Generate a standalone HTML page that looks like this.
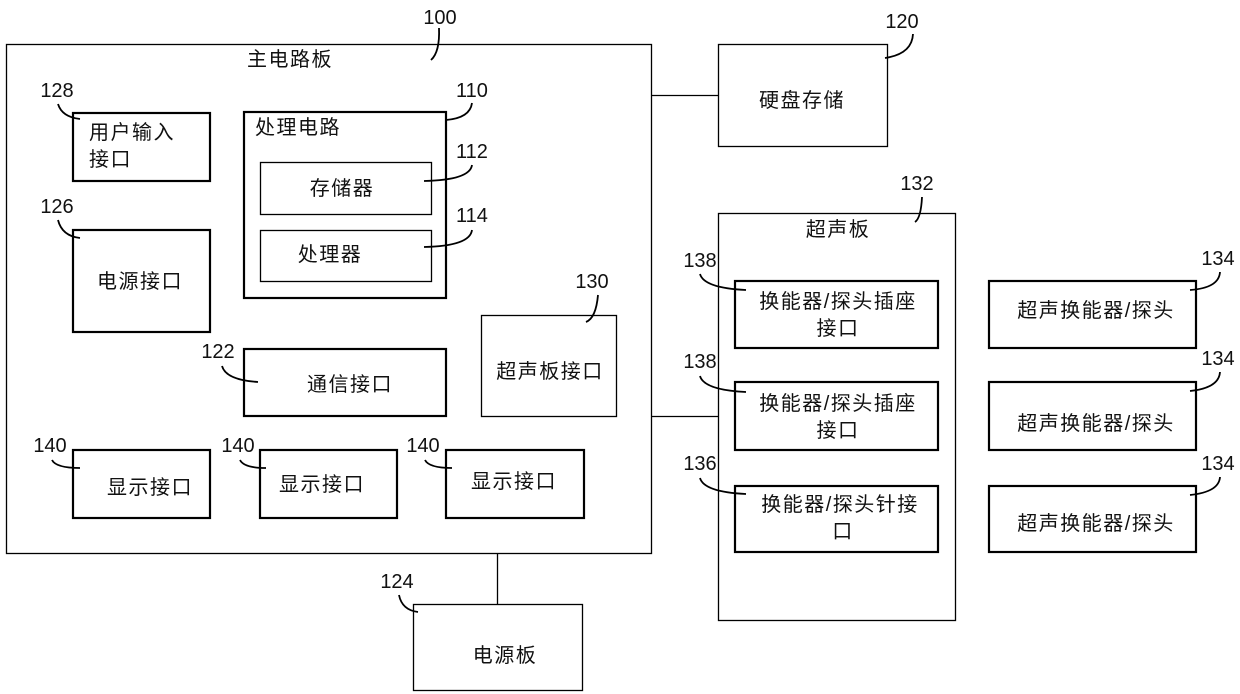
<!DOCTYPE html>
<html><head><meta charset="utf-8"><style>
html,body{margin:0;padding:0;background:#fff;}
svg{display:block;}
text{font-family:"Liberation Sans","Noto Sans CJK SC",sans-serif;font-size:20px;letter-spacing:1.5px;fill:#111;}
.n{font-size:20px;letter-spacing:0;text-anchor:middle;}
.c{text-anchor:middle;}
</style></head><body>
<svg width="1240" height="694" viewBox="0 0 1240 694" fill="none" stroke="#000">
<g stroke-width="1.3">
<rect x="6.5" y="44.5" width="645" height="509"/>
<rect x="718.5" y="44.5" width="169" height="102"/>
<rect x="718.5" y="213.5" width="237" height="407"/>
<rect x="413.5" y="604.5" width="169" height="86"/>
<rect x="260.5" y="162.5" width="171" height="52"/>
<rect x="260.5" y="230.5" width="171" height="51"/>
<rect x="481.5" y="315.5" width="135" height="101"/>
<line x1="651" y1="95.5" x2="718" y2="95.5"/>
<line x1="651" y1="416.5" x2="718" y2="416.5"/>
<line x1="497.5" y1="553" x2="497.5" y2="604"/>
</g>
<g stroke-width="2.2">
<rect x="73" y="113" width="137" height="68"/>
<rect x="244" y="112" width="202" height="186"/>
<rect x="73" y="230" width="137" height="102"/>
<rect x="244" y="349" width="202" height="67"/>
<rect x="73" y="450" width="137" height="68"/>
<rect x="260" y="450" width="137" height="68"/>
<rect x="446" y="450" width="138" height="68"/>
<rect x="735" y="281" width="203" height="67"/>
<rect x="735" y="382" width="203" height="68"/>
<rect x="735" y="486" width="203" height="66"/>
<rect x="989" y="281" width="207" height="67"/>
<rect x="989" y="382" width="207" height="68"/>
<rect x="989" y="486" width="207" height="66"/>
</g>
<g stroke-width="1.8">
<path d="M439 28 Q440 52 431 60"/>
<path d="M58 104 Q62 117 80 119"/>
<path d="M472 103 Q470 118 446 120"/>
<path d="M472 165 Q470 180 424 181"/>
<path d="M472 230 Q470 246 424 247"/>
<path d="M58 220 Q62 236 80 238"/>
<path d="M222 366 Q226 380 258 382"/>
<path d="M598 295 Q596 318 586 322"/>
<path d="M52 460 Q56 468 80 468"/>
<path d="M240 460 Q244 468 266 468"/>
<path d="M425 460 Q429 468 452 468"/>
<path d="M399 595 Q402 610 418 612"/>
<path d="M913 34 Q912 54 885 58"/>
<path d="M922 197 Q921 218 915 222"/>
<path d="M700 274 Q704 288 746 290"/>
<path d="M700 376 Q704 390 746 392"/>
<path d="M700 478 Q704 492 746 494"/>
<path d="M1220 272 Q1219 288 1190 290"/>
<path d="M1220 372 Q1219 388 1190 391"/>
<path d="M1220 477 Q1219 492 1190 495"/>
</g>
<g stroke="none">
<text class="c" x="290" y="66">主电路板</text>
<text class="n" x="440" y="24">100</text>
<text class="c" x="802" y="107">硬盘存储</text>
<text class="n" x="902" y="28">120</text>
<text x="89" y="139">用户输入</text>
<text x="89" y="166">接口</text>
<text class="n" x="57" y="97">128</text>
<text x="255" y="134">处理电路</text>
<text class="n" x="472" y="97">110</text>
<text class="c" x="342" y="195">存储器</text>
<text class="n" x="472" y="158">112</text>
<text class="c" x="330" y="261">处理器</text>
<text class="n" x="472" y="222">114</text>
<text class="c" x="140" y="288">电源接口</text>
<text class="n" x="57" y="213">126</text>
<text class="c" x="350" y="391">通信接口</text>
<text class="n" x="218" y="358">122</text>
<text class="c" x="550" y="378">超声板接口</text>
<text class="n" x="592" y="288">130</text>
<text class="c" x="150" y="494">显示接口</text>
<text class="c" x="322" y="491">显示接口</text>
<text class="c" x="514" y="488">显示接口</text>
<text class="n" x="50" y="452">140</text>
<text class="n" x="238" y="452">140</text>
<text class="n" x="423" y="452">140</text>
<text class="c" x="505" y="662">电源板</text>
<text class="n" x="397" y="588">124</text>
<text class="c" x="838" y="236">超声板</text>
<text class="n" x="917" y="190">132</text>
<text class="c" x="838" y="308">换能器/探头插座</text>
<text class="c" x="838" y="335">接口</text>
<text class="c" x="838" y="410">换能器/探头插座</text>
<text class="c" x="838" y="437">接口</text>
<text class="c" x="840" y="511">换能器/探头针接</text>
<text class="c" x="843" y="538">口</text>
<text class="n" x="700" y="267">138</text>
<text class="n" x="700" y="368">138</text>
<text class="n" x="700" y="470">136</text>
<text class="c" x="1096" y="317">超声换能器/探头</text>
<text class="c" x="1096" y="430">超声换能器/探头</text>
<text class="c" x="1096" y="530">超声换能器/探头</text>
<text class="n" x="1218" y="265">134</text>
<text class="n" x="1218" y="365">134</text>
<text class="n" x="1218" y="470">134</text>
</g>
</svg>
</body></html>
